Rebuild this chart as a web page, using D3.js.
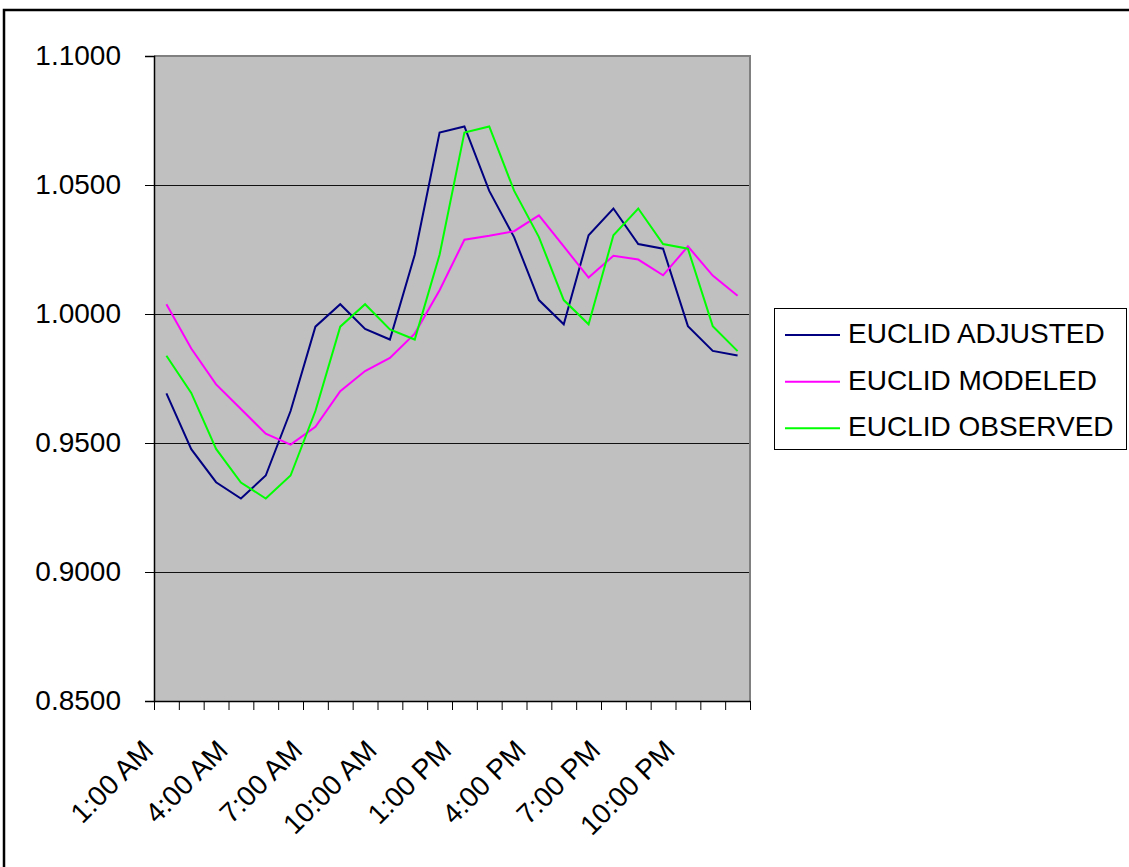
<!DOCTYPE html>
<html>
<head>
<meta charset="utf-8">
<script src="https://cdn.jsdelivr.net/npm/d3@7"></script>
<style>
  html, body { margin: 0; padding: 0; background: #fff; }
  svg { display: block; font-family: "Liberation Sans", Arial, sans-serif; }
</style>
</head>
<body>
<svg id="chart" width="1129" height="867"></svg>
<script>
// ---- data ----
const categories = ["1:00 AM","2:00 AM","3:00 AM","4:00 AM","5:00 AM","6:00 AM","7:00 AM","8:00 AM",
  "9:00 AM","10:00 AM","11:00 AM","12:00 PM","1:00 PM","2:00 PM","3:00 PM","4:00 PM","5:00 PM",
  "6:00 PM","7:00 PM","8:00 PM","9:00 PM","10:00 PM","11:00 PM","12:00 AM"];
const adjusted = [0.9692, 0.9476, 0.9348, 0.9285, 0.9374, 0.9624, 0.9951, 1.0038, 0.9942, 0.9901, 1.0230, 1.0703,
  1.0727, 1.0477, 1.0298, 1.0054, 0.9960, 1.0305, 1.0409, 1.0271, 1.0253, 0.9953, 0.9857, 0.9839];
const modeled = [1.0038, 0.9866, 0.9727, 0.9632, 0.9536, 0.9494, 0.9563, 0.9701, 0.9779, 0.9830, 0.9924, 1.0092,
  1.0288, 1.0303, 1.0321, 1.0382, 1.0262, 1.0141, 1.0226, 1.0211, 1.0150, 1.0262, 1.0149, 1.0071];
const observed = [0.9838, 0.9694, 0.9477, 0.9347, 0.9285, 0.9374, 0.9624, 0.9951, 1.0038, 0.9940, 0.9901, 1.0230,
  1.0703, 1.0727, 1.0478, 1.0298, 1.0054, 0.9960, 1.0305, 1.0409, 1.0271, 1.0253, 0.9953, 0.9856];
const seriesNames = ["EUCLID ADJUSTED", "EUCLID MODELED", "EUCLID OBSERVED"];
const yTicks = [0.85, 0.90, 0.95, 1.00, 1.05, 1.10];
const shownLabels = ["1:00 AM","4:00 AM","7:00 AM","10:00 AM","1:00 PM","4:00 PM","7:00 PM","10:00 PM"];

const series = [
  { name: seriesNames[0], values: adjusted, color: "#000080" },
  { name: seriesNames[1], values: modeled,  color: "#FF00FF" },
  { name: seriesNames[2], values: observed, color: "#00FF00" }
];

// ---- layout ----
const svg = d3.select("#chart");
const plot = { left: 154, right: 750, top: 56, bottom: 701 };
const FONT = 28;

// outer frame
svg.append("rect")
  .attr("x", 4).attr("y", 10).attr("width", 1140).attr("height", 880)
  .attr("fill", "none").attr("stroke", "#000").attr("stroke-width", 2.5);

const x = d3.scaleBand().domain(categories).range([plot.left, plot.right]).paddingInner(0).paddingOuter(0);
const y = d3.scaleLinear().domain([0.85, 1.10]).range([plot.bottom, plot.top]);

// plot area
svg.append("rect")
  .attr("x", plot.left).attr("y", plot.top)
  .attr("width", plot.right - plot.left).attr("height", plot.bottom - plot.top)
  .attr("fill", "#C0C0C0");

// gridlines
svg.append("g").selectAll("line").data(yTicks.filter(d => d > 0.85 && d < 1.10)).join("line")
  .attr("x1", plot.left).attr("x2", plot.right)
  .attr("y1", d => Math.round(y(d)) + 0.5).attr("y2", d => Math.round(y(d)) + 0.5)
  .attr("stroke", "#111").attr("stroke-width", 1);

// plot border (top & right grey)
svg.append("path")
  .attr("d", `M${plot.left},${plot.top} H${plot.right} V${plot.bottom}`)
  .attr("fill", "none").attr("stroke", "#808080").attr("stroke-width", 2);

// y axis
const yAxis = d3.axisLeft(y).tickValues(yTicks).tickFormat(d3.format(".4f")).tickSize(9).tickPadding(24);
const gy = svg.append("g").attr("transform", `translate(${plot.left},0)`).call(yAxis);
gy.select(".domain").attr("stroke", "#000").attr("stroke-width", 1.5);
gy.selectAll(".tick line").attr("stroke", "#000");
gy.selectAll(".tick text").attr("font-size", FONT).attr("fill", "#000")
  .attr("font-family", "'Liberation Sans', Arial, sans-serif");

// x axis (ticks at category boundaries)
const xb = d3.scaleLinear().domain([0, categories.length]).range([plot.left, plot.right]);
const xAxis = d3.axisBottom(xb).tickValues(d3.range(0, categories.length + 1))
  .tickFormat("").tickSize(9).tickSizeOuter(0);
const gx = svg.append("g").attr("transform", `translate(0,${plot.bottom})`).call(xAxis);
gx.select(".domain").attr("stroke", "#000").attr("stroke-width", 1.5);
gx.selectAll(".tick line").attr("stroke", "#000");

// x labels rotated
svg.append("g").selectAll("text").data(shownLabels).join("text")
  .attr("transform", d => `translate(${x(d) + 1},752) rotate(-45)`)
  .attr("text-anchor", "end")
  .attr("font-size", FONT)
  .attr("fill", "#000")
  .text(d => d);

// lines
const line = d3.line()
  .x((d, i) => x(categories[i]) + x.bandwidth() / 2)
  .y(d => y(d));
svg.append("g").selectAll("path").data(series).join("path")
  .attr("d", s => line(s.values))
  .attr("fill", "none")
  .attr("stroke", s => s.color)
  .attr("stroke-width", 2)
  .attr("stroke-linejoin", "miter");

// legend
const lg = svg.append("g");
lg.append("rect").attr("x", 774.5).attr("y", 308.5).attr("width", 352).attr("height", 141)
  .attr("fill", "#fff").attr("stroke", "#000").attr("stroke-width", 1);
const ly = d3.scalePoint().domain(seriesNames).range([335, 428.3]);
const items = lg.selectAll("g.item").data(series).join("g").attr("class", "item");
items.append("line")
  .attr("x1", 785).attr("x2", 840)
  .attr("y1", s => ly(s.name)).attr("y2", s => ly(s.name))
  .attr("stroke", s => s.color).attr("stroke-width", 2);
items.append("text")
  .attr("x", 848).attr("y", s => ly(s.name) + 8)
  .attr("font-size", FONT).attr("fill", "#000")
  .text(s => s.name);
</script>
</body>
</html>
